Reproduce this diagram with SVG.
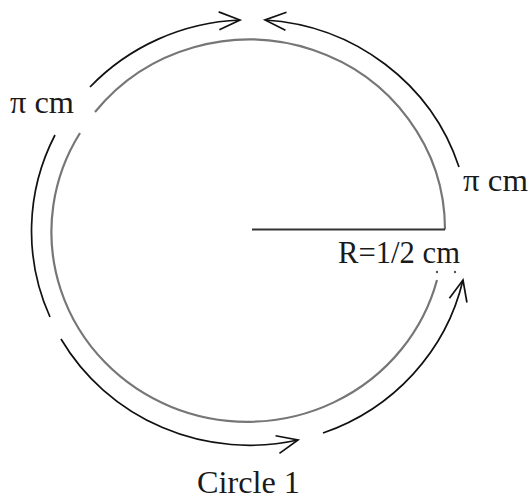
<svg xmlns="http://www.w3.org/2000/svg" width="530" height="501" viewBox="0 0 530 501">
  <style>
    .circ { fill: none; stroke: #767676; stroke-width: 2.2; }
    .rad { fill: none; stroke: #333; stroke-width: 2; }
    .arc { fill: none; stroke: #111; stroke-width: 1.7; }
    .lbl { font-family: "Liberation Serif", "Times New Roman", serif; font-size: 31px; fill: #1a1a1a; }
  </style>
  <defs>
    <marker id="open" markerUnits="userSpaceOnUse" markerWidth="30" markerHeight="30" refX="22" refY="10" orient="auto" viewBox="0 0 30 20">
      <path d="M1,1 L22,10 L1,19" fill="none" stroke="#111" stroke-width="1.7"/>
    </marker>
  </defs>
  <rect width="530" height="501" fill="#fff"/>

  <g id="circle1">
    <path class="circ" d="M95,112 A196,190 0 0 1 445,229.5"/>
    <path class="circ" d="M437,280 A196,190 0 1 1 80,133"/>
    <circle cx="437" cy="272" r="1.2" fill="#555"/>
    <circle cx="455" cy="272" r="1.2" fill="#555"/>
  </g>

  <g id="radius">
    <line class="rad" x1="252" y1="229.5" x2="445" y2="229.5"/>
    <text class="lbl" x="338" y="263" textLength="122" lengthAdjust="spacingAndGlyphs">R=1/2 cm</text>
  </g>

  <g id="connectors">
    <path class="arc" d="M90,87 A218,213 0 0 1 240,20" marker-end="url(#open)"/>
    <path class="arc" d="M459,167 A218,213 0 0 0 265,20" marker-end="url(#open)"/>
    <path class="arc" d="M55,135 A218,213 0 0 0 50,317"/>
    <path class="arc" d="M61,339 A218,213 0 0 0 298,440" marker-end="url(#open)"/>
    <path class="arc" d="M323,433 A218,213 0 0 0 463,280" marker-end="url(#open)"/>
  </g>

  <g id="label-left">
    <text class="lbl" x="10" y="113" textLength="64" lengthAdjust="spacingAndGlyphs">π cm</text>
  </g>
  <g id="label-right">
    <text class="lbl" x="463" y="191" textLength="65" lengthAdjust="spacingAndGlyphs">π cm</text>
  </g>
  <g id="title">
    <text class="lbl" x="197" y="493" textLength="103" lengthAdjust="spacingAndGlyphs">Circle 1</text>
  </g>
</svg>
